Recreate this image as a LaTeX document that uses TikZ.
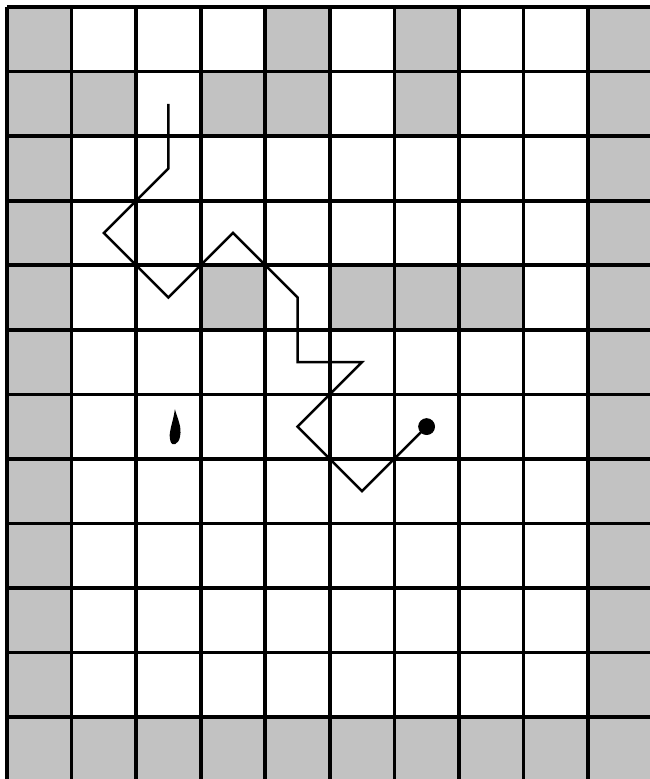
\documentclass[tikz,border=0pt]{standalone}
\usetikzlibrary{calc}
\tikzset{
 lat line/.style={line width=1.6pt},
 lat wall/.style={fill=black!24},
 walk step/.style={line width=1.1pt,line join=miter},
 walk end/.style={circle,fill=black,draw=black,minimum size=7pt,
                  inner sep=0pt,outer sep=0pt}
}

\begin{document}
\begin{tikzpicture}
 \useasboundingbox (-0.11,0.04) rectangle (9.96,12.11);
 \clip (-0.11,0.04) rectangle (9.96,12.11);
 % shaded cells, column/row counted from the top left
 \foreach \c/\r in {1/1,5/1,7/1,10/1,1/2,2/2,4/2,5/2,7/2,10/2,4/5,6/5,7/5,8/5}{
   \fill[lat wall] (\c-1,12-\r) rectangle (\c,13-\r);
 }
 \foreach \r in {3,...,11}{
   \fill[lat wall] (0,12-\r) rectangle (1,13-\r);
   \fill[lat wall] (9,12-\r) rectangle (10,13-\r);
 }
 \fill[lat wall] (0,0) rectangle (10,1);
 \draw[lat line] (0,0) grid (10,12);
 % the walk
 \foreach \n/\c/\r in {0/3/2,1/3/3,2/2/4,3/3/5,4/4/4,5/5/5,6/5/6,7/6/6,8/5/7,9/6/8,10/7/7}{
   \coordinate (w\n) at (\c-0.5,12.5-\r);
 }
 \draw[walk step] (w0) \foreach \n in {1,...,10}{ -- (w\n)};
 \node[walk end] (tip) at (w10) {};
 % blot
 \fill (2.60,5.77) .. controls (2.64,5.62) and (2.71,5.50) .. (2.68,5.35)
   .. controls (2.66,5.22) and (2.55,5.18) .. (2.53,5.28)
   .. controls (2.49,5.40) and (2.57,5.55) .. (2.60,5.77);
\end{tikzpicture}
\end{document}
